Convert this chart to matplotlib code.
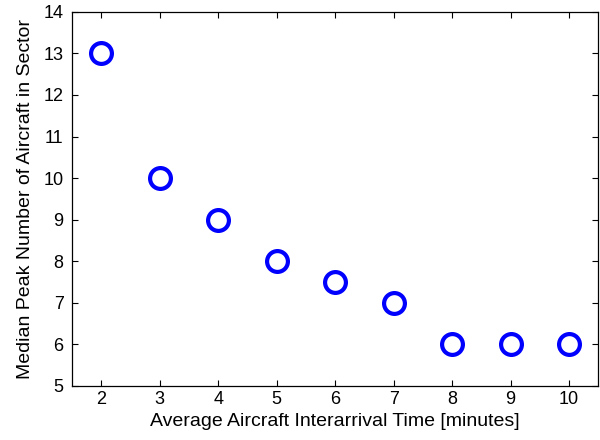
import matplotlib
matplotlib.use("Agg")
import matplotlib.pyplot as plt

plt.rcParams['font.family'] = ['Liberation Sans', 'DejaVu Sans']

interarrival = [2, 3, 4, 5, 6, 7, 8, 9, 10]
peak_aircraft = [13, 10, 9, 8, 7.5, 7, 6, 6, 6]
xticks = [2, 3, 4, 5, 6, 7, 8, 9, 10]
yticks = [5, 6, 7, 8, 9, 10, 11, 12, 13, 14]

fig = plt.figure(figsize=(6, 4.4), dpi=100)
ax = fig.add_axes([0.12, 0.123, 0.877, 0.85])
ax.plot(interarrival, peak_aircraft, 'o', markerfacecolor='none',
        markeredgecolor=(0, 0, 1), markersize=15, markeredgewidth=3, linestyle='none')
ax.set_xlim(1.5, 10.5)
ax.set_ylim(5, 14)
ax.set_xticks(xticks)
ax.set_yticks(yticks)
ax.tick_params(direction='in', length=4, labelsize=13, top=True, right=True,
               width=0.8)
ax.tick_params(axis='y', pad=6)
ax.tick_params(axis='x', pad=4)
ax.set_xlabel('Average Aircraft Interarrival Time [minutes]', fontsize=14, labelpad=3)
ax.set_ylabel('Median Peak Number of Aircraft in Sector', fontsize=14, labelpad=7)
for s in ax.spines.values():
    s.set_linewidth(0.9)
fig.savefig('out.png', dpi=100)
